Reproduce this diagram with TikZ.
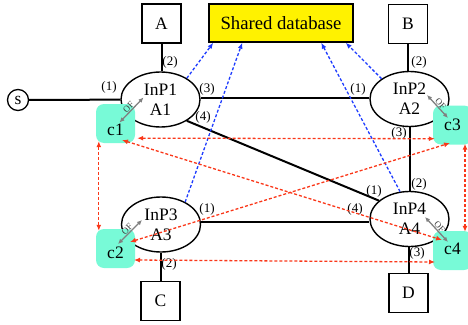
\documentclass[tikz,border=0pt]{standalone}
\usepackage{fontspec}
\setmainfont{Liberation Serif}
\newfontfamily\tms{Liberation Serif}
\usetikzlibrary{shapes.geometric,arrows.meta,calc}
\definecolor{aqua}{RGB}{120,250,215}
\definecolor{rdash}{RGB}{250,55,25}
\definecolor{bdash}{RGB}{30,60,255}
\newcommand\bigf{\tms\fontsize{17.5}{20}\selectfont}
\newcommand\labf{\tms\fontsize{13}{13}\selectfont}
\begin{document}
\begin{tikzpicture}[x=1pt,y=-1pt,
  box/.style={draw, line width=1.5pt, minimum size=39pt, inner sep=0pt, font=\bigf},
  inp/.style={ellipse, draw, line width=1.4pt, minimum width=79pt, minimum height=55pt, inner sep=0pt, align=center, font=\bigf},
  cbox/.style={fill=aqua, rounded corners=8pt, minimum size=39pt, inner sep=0pt, font=\bigf},
  conn/.style={line width=2pt},
  lab/.style={font=\labf, inner sep=0pt},
  bluearr/.style={bdash, line width=1.3pt, dash pattern=on 3pt off 2pt, -{Latex[length=6pt,width=5pt]}},
  redarr/.style={rdash, line width=1.3pt, dash pattern=on 3pt off 2pt, {Latex[length=6pt,width=5pt]}-{Latex[length=6pt,width=5pt]}},
  ofarr/.style={gray, line width=1.3pt, {Latex[length=5pt,width=4.5pt]}-{Latex[length=5pt,width=4.5pt]}},
  oflab/.style={font=\tms\fontsize{9}{9}\selectfont, text=black!75, inner sep=0.5pt}
]
\useasboundingbox (0,0) rectangle (468,324);

% nodes
\node[circle, draw, line width=1.3pt, minimum size=21pt, inner sep=0pt, font=\bigf] (s) at (18,100) {s};
\node[box] (A) at (161.5,23.5) {A};
\node[box, fill=yellow, minimum width=144pt, minimum height=38pt, font=\tms\fontsize{18.7}{20}\selectfont] (db) at (281,23) {Shared database};
\node[box] (B) at (408,24) {B};
\node[box] (C) at (160.5,301) {C};
\node[box] (D) at (408.5,293) {D};

\node[inp] (P1) at (160.5,99.5) {InP1\\A1};
\node[inp] (P2) at (409.5,99) {InP2\\A2};
\node[inp] (P3) at (161,224.5) {InP3\\A3};
\node[inp] (P4) at (409.5,219) {InP4\\A4};

\node[cbox] (c1) at (115.5,123.5) {\raisebox{-6pt}[12pt][0pt]{c1}};
\node[cbox] (c2) at (115.5,248.5) {\raisebox{-4pt}[12pt][0pt]{c2}};
\node[cbox] (c3) at (452.5,125) {c3};
\node[cbox] (c4) at (452.5,250.5) {\raisebox{2pt}[12pt][0pt]{c4}};

% black connections
\draw[conn] (s) -- (P1);
\draw[conn] (A.south) -- (A.south |- P1.north);
\draw[conn] (B.south) -- (B.south |- P2.north);
\draw[conn] (P1.2) -- (P1.2 -| P2.west);
\draw[conn] (P1.-39) -- (P4.149);
\draw[conn] (P3.4) -- (P3.4 -| P4.west);
\draw[conn] (P2) -- (P4);
\draw[conn] (C.north) -- (C.north |- P3.south);
\draw[conn] (D.north) -- (D.north |- P4.south);

% port labels
\node[lab] (l1a) at (109,87) {(1)};
\node[lab] (l1b) at (170,62) {(2)};
\node[lab] (l1c) at (207,89) {(3)};
\node[lab] (l1d) at (203,117) {(4)};
\node[lab] (l2a) at (358,89) {(1)};
\node[lab] (l2b) at (419,62) {(2)};
\node[lab] (l2c) at (399,133) {(3)};
\node[lab] (l3a) at (207,209) {(1)};
\node[lab] (l3b) at (169,264) {(2)};
\node[lab] (l4a) at (374,191) {(1)};
\node[lab] (l4b) at (419,184) {(2)};
\node[lab] (l4d) at (355,209) {(4)};
\node[lab] (l4c) at (417,253) {(3)};

% blue arrows to database
\coordinate (db1) at ($(db.south west)+(5,0)$);
\coordinate (db2) at ($(db.south west)+(34,0)$);
\coordinate (db3) at ($(db.south west)+(113,0)$);
\coordinate (db4) at ($(db.south east)+(-8,0)$);
\draw[bluearr] (P1.39) -- (db1);
\draw[bluearr] (P3.43) -- (db2);
\draw[bluearr] (P4.109) -- (db3);
\draw[bluearr] (P2.144) -- (db4);

% OF arrows
\draw[ofarr] ($(c1.center)+(4,-1)$) -- node[oflab, above, sloped] {OF} ($(P1.center)+(-17,-2)$);
\draw[ofarr] ($(c2.center)+(2.5,-4.5)$) -- node[oflab, above, sloped] {OF} ($(P3.center)+(-19,-4.5)$);
\draw[ofarr] ($(P2.center)+(17.5,-4)$) -- node[oflab, above, sloped] {OF} ($(c3.center)+(-4.5,-7)$);
\draw[ofarr] ($(P4.center)+(15.5,-2)$) -- node[oflab, above, sloped] {OF} ($(c4.center)+(-4.5,-8.5)$);

% red controller links
\draw[redarr] ($(c1.south west)+(3,-2)$) -- ($(c2.north west)+(3,2)$);
\draw[redarr] ($(c3.south)+(12.5,-1)$) -- ($(c4.north)+(12.5,1)$);
\draw[redarr] ($(c1.south east)+(2,-5)$) -- ($(c3.south west)+(2,-6)$);
\draw[redarr] ($(c1.center)+(6.5,16.5)$) -- ($(c4.center)+(-10.5,-10.5)$);
\draw[redarr] ($(c2.center)+(14.5,-6.5)$) -- ($(c3.center)+(-2.5,18)$);
\draw[redarr] ($(c2.center)+(18.5,11.5)$) -- ($(c4.center)+(-17.5,11.5)$);
\end{tikzpicture}
\end{document}
